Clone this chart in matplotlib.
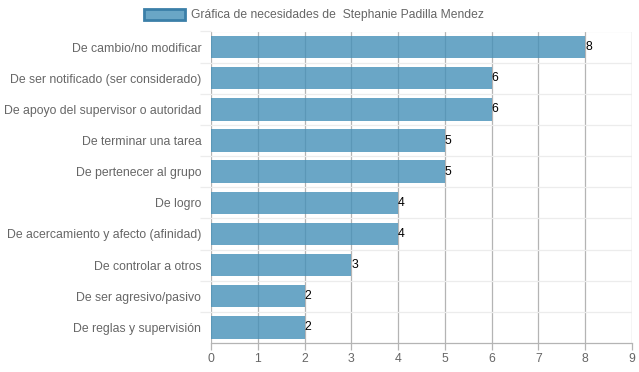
#!/usr/bin/env python3
"""
Horizontal bar chart of needs for one person.
"""

import matplotlib
matplotlib.use("Agg")
import matplotlib.pyplot as plt
from matplotlib import ticker
from matplotlib.patches import Patch

categories = [
    "De cambio/no modificar",
    "De ser notificado (ser considerado)",
    "De apoyo del supervisor o autoridad",
    "De terminar una tarea",
    "De pertenecer al grupo",
    "De logro",
    "De acercamiento y afecto (afinidad)",
    "De controlar a otros",
    "De ser agresivo/pasivo",
    "De reglas y supervisión",
]
values = [8, 6, 6, 5, 5, 4, 4, 3, 2, 2]
series_name = "Gráfica de necesidades de  Stephanie Padilla Mendez"

BAR_COLOR = (0.27, 0.565, 0.72, 0.8)
EDGE_COLOR = "#3b7fa8"
TEXT_COLOR = "#666666"
FONT_SIZE = 8.8

plt.rcParams["font.family"] = ["Liberation Sans", "DejaVu Sans"]

fig = plt.figure(figsize=(6.39, 3.72), dpi=100)
ax = fig.add_axes([211 / 639, 1 - 343 / 372, 421 / 639, 311.5 / 372])

pos = list(range(len(categories)))
ax.barh(pos, values, height=0.72, color=BAR_COLOR, zorder=2)
for y, v in zip(pos, values):
    ax.text(v, y, str(v), ha="left", va="center", fontsize=FONT_SIZE,
            color="black", zorder=3)

ax.set_xlim(0, 9)
ax.set_ylim(len(categories) - 0.5, -0.5)
ax.xaxis.set_major_locator(ticker.MultipleLocator(1))
ax.set_yticks(pos)
ax.set_yticklabels(categories)
ax.set_yticks([p + 0.5 for p in pos[:-1]] + [-0.5], minor=True)

ax.grid(axis="x", color="#b4b4b4", linewidth=0.9, zorder=0)
ax.grid(axis="y", which="minor", color="#ececec", linewidth=0.9, zorder=0)
ax.tick_params(axis="x", colors="#b4b4b4", labelcolor=TEXT_COLOR,
               labelsize=FONT_SIZE, length=5, width=0.9, pad=2)
ax.tick_params(axis="y", which="major", length=0, labelcolor=TEXT_COLOR,
               labelsize=FONT_SIZE, pad=7)
ax.tick_params(axis="y", which="minor", length=8, color="#ececec",
               width=0.9)
for side in ("top", "right", "left"):
    ax.spines[side].set_visible(False)
ax.spines["bottom"].set_color("#b4b4b4")
ax.spines["bottom"].set_linewidth(0.9)

handle = Patch(facecolor=BAR_COLOR, edgecolor=EDGE_COLOR, linewidth=2)
fig.legend([handle], [series_name], loc="center",
           bbox_to_anchor=(313.5 / 639, 1 - 15 / 372),
           frameon=False, fontsize=8.7, labelcolor=TEXT_COLOR,
           handlelength=3.4, handleheight=1.1, handletextpad=0.5)

fig.savefig("out.png", dpi=100)
